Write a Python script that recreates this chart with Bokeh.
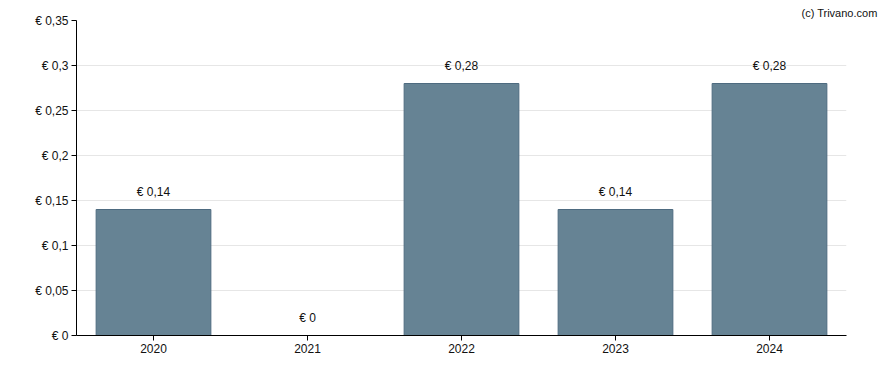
from bokeh.plotting import figure
from bokeh.models import ColumnDataSource, FactorRange, Range1d, FixedTicker, CustomJSTickFormatter
from bokeh.core.properties import value
from bokeh.embed import file_html
from bokeh.resources import INLINE

years = ["2020", "2021", "2022", "2023", "2024"]
dividends = [0.14, 0.0, 0.28, 0.14, 0.28]
bar_labels = ["€ 0,14", "€ 0", "€ 0,28", "€ 0,14", "€ 0,28"]
y_ticks = [0, 0.05, 0.1, 0.15, 0.2, 0.25, 0.3, 0.35]

FONT = "Liberation Sans"

src = ColumnDataSource(dict(x=years, top=dividends, label=bar_labels))

p = figure(width=888, height=370, x_range=FactorRange(*years, range_padding=0),
           y_range=Range1d(0, 0.35), output_backend="svg", toolbar_location=None,
           title="(c) Trivano.com",
           min_border_left=76, min_border_right=42, min_border_top=20, min_border_bottom=35)
p.outline_line_color = None
p.background_fill_color = "white"

p.title.align = "right"
p.title.text_font = FONT
p.title.text_font_size = "11px"
p.title.text_font_style = "normal"
p.title.text_color = "#111111"
p.title.standoff = 0
p.title.offset = -31
p.title.vertical_align = "top"

p.vbar(x="x", top="top", width=0.745, source=src, fill_color="#668394",
       line_color="#4e6b80", line_width=1)
p.text(x="x", y="top", text="label", source=src, text_align="center",
       text_baseline="middle", y_offset=-18, text_font=value(FONT),
       text_font_size="12px", text_color="#111111")

p.xgrid.grid_line_color = None
p.ygrid.grid_line_color = "#e6e6e6"
p.ygrid.ticker = FixedTicker(ticks=y_ticks)

p.yaxis.ticker = FixedTicker(ticks=y_ticks)
p.yaxis.formatter = CustomJSTickFormatter(code="""
const s = (Math.round(tick*100)/100).toString().replace('.', ',');
return '€ ' + s;
""")
for ax in (p.xaxis[0], p.yaxis[0]):
    ax.axis_line_color = "black"
    ax.axis_line_width = 1
    ax.major_tick_line_color = "black"
    ax.major_tick_out = 5
    ax.major_tick_in = 0
    ax.minor_tick_line_color = None
    ax.major_label_text_font = FONT
    ax.major_label_text_font_size = "12px"
    ax.major_label_text_color = "#111111"
p.xaxis.major_label_standoff = 3
p.yaxis.major_label_standoff = 3

open("out.html", "w").write(file_html(p, INLINE))
